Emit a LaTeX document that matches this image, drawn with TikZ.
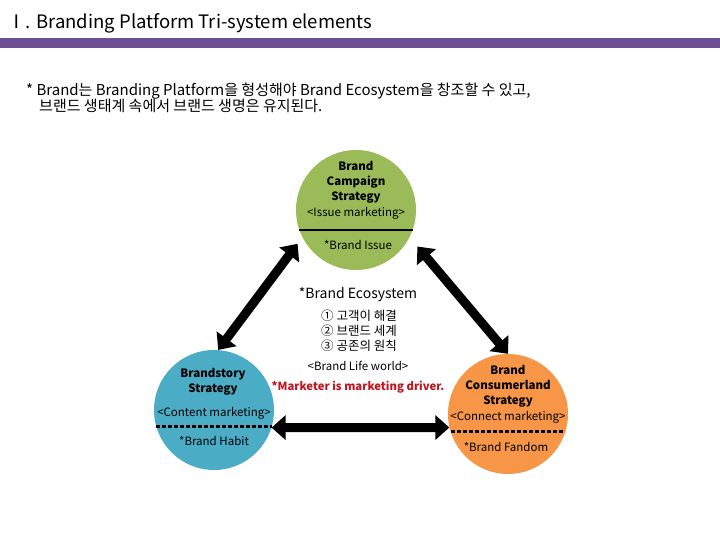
\documentclass[tikz,border=0pt]{standalone}
\usepackage{fontspec}
\setmainfont{Noto Sans CJK KR}
\usetikzlibrary{arrows.meta,calc}
\definecolor{barpurple}{HTML}{6D5194}
\definecolor{cgreen}{HTML}{9BBB59}
\definecolor{cblue}{HTML}{4BACC6}
\definecolor{corange}{HTML}{F79646}
\definecolor{dred}{HTML}{C0141E}
\begin{document}
\begin{tikzpicture}[x=1pt,y=-1pt,
  circ/.style={circle, minimum size=120pt, inner sep=0pt},
  bigarrow/.style={line width=9pt, {Triangle[width=24pt,length=14pt]}-{Triangle[width=24pt,length=14pt]}},
  ctxt/.style={font=\fontsize{11.5}{13}\selectfont, inner sep=0pt},
  btxt/.style={font=\fontsize{11.5}{14.8}\selectfont\bfseries, inner sep=0pt, align=center},
  solidsep/.style={line width=2pt},
  dashsep/.style={line width=3pt, dash pattern=on 4pt off 2pt},
  notetxt/.style={font=\fontsize{15}{15}\selectfont, inner sep=0pt, anchor=west},
]
\useasboundingbox (0,0) rectangle (720,540);
\node[anchor=west, font=\fontsize{18.5}{20}\selectfont, inner sep=0pt] (title) at (7,23) {Ⅰ. Branding Platform Tri-system elements};
\fill[barpurple] (0,38) rectangle (720,48);
\node[notetxt] (note1) at (26,91) {* Brand는 Branding Platform을 형성해야 Brand Ecosystem을 창조할 수 있고,};
\node[notetxt] (note2) at (39,106) {브랜드 생태계 속에서 브랜드 생명은 유지된다.};

% circles
\node[circ, fill=cgreen] (g) at (356,210) {};
\node[circ, fill=cblue] (b) at (214,410) {};
\node[circ, fill=corange] (o) at (508,414) {};

% green contents
\node[btxt] (gt) at (356,182) {Brand\\Campaign\\Strategy};
\node[ctxt] (gm) at (356,213) {<Issue marketing>};
\draw[solidsep] ($(g)+(-57,20)$) -- ($(g)+(57,20)$);
\node[ctxt] (gi) at (358,245) {*Brand Issue};

% blue contents
\node[btxt] (bt) at (213,382) {Brandstory\\Strategy};
\node[ctxt] (bm) at (214,413) {<Content marketing>};
\draw[dashsep] ($(b)+(-58,16)$) -- ($(b)+(58,16)$);
\node[ctxt] (bh) at (214,441) {*Brand Habit};

% orange contents
\node[btxt] (ot) at (508,386.5) {Brand\\Consumerland\\Strategy};
\node[ctxt] (om) at (508,417) {<Connect marketing>};
\draw[dashsep] ($(o)+(-57,17)$) -- ($(o)+(57,17)$);
\node[ctxt] (of) at (506,447) {*Brand Fandom};

% centre
\node[font=\fontsize{14}{15}\selectfont, inner sep=0pt] (eco) at (358,295) {*Brand Ecosystem};
\node[font=\fontsize{12.5}{15}\selectfont, inner sep=0pt, align=left] (list) at (359,331) {① 고객이 해결\\② 브랜드 세계\\③ 공존의 원칙};
\node[ctxt] (life) at (358,366) {<Brand Life world>};
\node[font=\fontsize{11.3}{14}\selectfont\bfseries, text=dred, inner sep=0pt] (drv) at (358,387) {*Marketer is marketing driver.};

% arrows
\draw[bigarrow, shorten >=8pt] (b.86) -- (g.207);
\draw[bigarrow, shorten >=12pt] (o.90) -- (g.333);
\draw[bigarrow] (b.343) -- (o.193);
\end{tikzpicture}
\end{document}
